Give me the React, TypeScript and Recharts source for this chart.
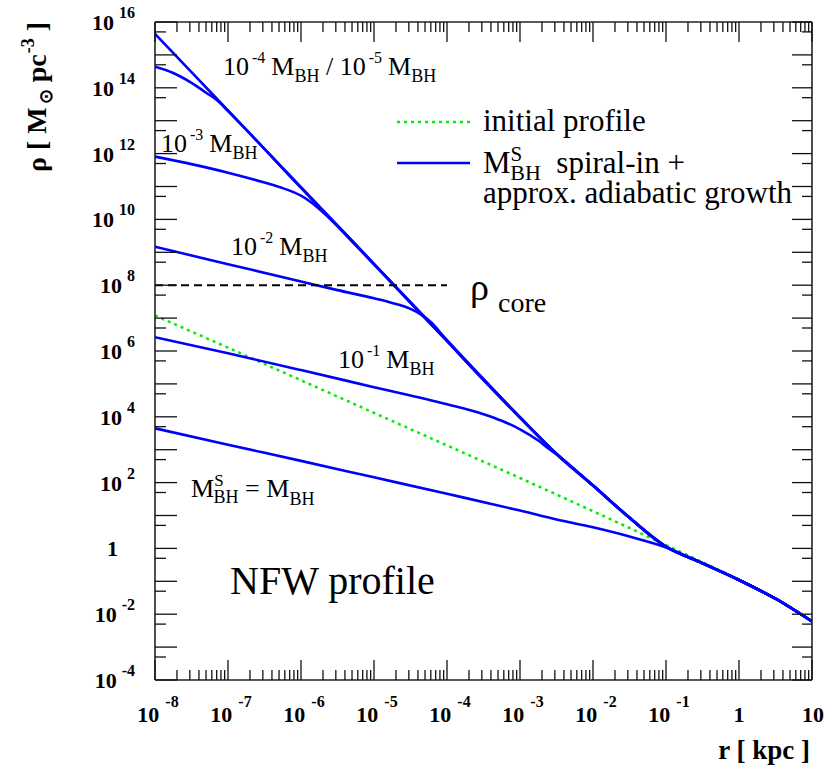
import React from 'react';
import { LineChart, Line, XAxis, YAxis } from 'recharts';

const W = 827;
const H = 769;
const FONT = "'Liberation Serif', 'Times New Roman', serif";
const BLUE = '#0000ff';
const GREEN = '#00ee00';

// all values are log10: r in kpc, rho in M_sun pc^-3
const rInitial = [-8, -7, -6, -5, -4, -3, -2, -1.5, -1, -0.5, 0, 0.5, 1];
const rhoInitial = [7.08, 6.1, 5.11, 4.12, 3.13, 2.14, 1.13, 0.62, 0.1, -0.42, -0.95, -1.53, -2.22];

const rSpike5 = [-8, -7, -6, -5, -4, -3, -2.5, -2, -1.5, -1, -0.5, 0, 0.5, 1];
const rhoSpike5 = [15.64, 13.31, 10.98, 8.65, 6.32, 3.99, 2.88, 1.92, 0.94, 0.06, -0.45, -0.96, -1.53, -2.22];

const rSpike4 = [-8, -7.75, -7.5, -7.3, -7.15, -7, -6, -5, -4, -3, -2.5, -2, -1.5, -1, -0.5, 0, 0.5, 1];
const rhoSpike4 = [14.64, 14.45, 14.15, 13.85, 13.62, 13.29, 10.96, 8.63, 6.3, 3.97, 2.87, 1.91, 0.93, 0.05, -0.45, -0.96, -1.53, -2.22];

const rSpike3 = [-8, -7.5, -7, -6.5, -6.25, -6, -5.85, -5.7, -5.5, -5, -4, -3, -2.5, -2, -1.5, -1, -0.5, 0, 0.5, 1];
const rhoSpike3 = [11.91, 11.68, 11.42, 11.12, 10.95, 10.72, 10.5, 10.22, 9.8, 8.64, 6.31, 3.98, 2.87, 1.91, 0.93, 0.05, -0.45, -0.96, -1.53, -2.22];

const rSpike2 = [-8, -7, -6, -5.5, -5, -4.75, -4.5, -4.35, -4.2, -4.05, -3.9, -3, -2.5, -2, -1.5, -1, -0.5, 0, 0.5, 1];
const rhoSpike2 = [9.17, 8.64, 8.11, 7.85, 7.6, 7.46, 7.28, 7.1, 6.84, 6.45, 6.07, 3.98, 2.87, 1.91, 0.93, 0.05, -0.45, -0.96, -1.53, -2.22];

const rSpike1 = [-8, -7, -6, -5, -4, -3.5, -3.25, -3, -2.75, -2.6, -2.5, -2, -1.5, -1, -0.5, 0, 0.5, 1];
const rhoSpike1 = [6.42, 5.93, 5.42, 4.9, 4.38, 4.08, 3.88, 3.62, 3.28, 3.02, 2.86, 1.91, 0.93, 0.05, -0.45, -0.96, -1.53, -2.22];

const rSpike0 = [-8, -7, -6, -5, -4, -3, -2.5, -2, -1.5, -1, -0.5, 0, 0.5, 1];
const rhoSpike0 = [3.65, 3.15, 2.66, 2.16, 1.66, 1.15, 0.88, 0.64, 0.36, 0.03, -0.45, -0.96, -1.53, -2.22];

const rCore = [-8, -4];
const rhoCore = [8, 8];

const xLabelPowers = [-8, -7, -6, -5, -4, -3, -2, -1, 0, 1];
const yLabelPowers = [16, 14, 12, 10, 8, 6, 4, 2, 0, -2, -4];
const xMinorMult = [2, 3, 4, 5, 6, 7, 8, 9];
const yMinorMult = [5];

const X_DOMAIN: [number, number] = [-8, 1];
const Y_DOMAIN: [number, number] = [-4, 16];

const toPts = (xs: number[], ys: number[]) => xs.map((x, i) => ({ x, y: ys[i] }));

const xTicks: number[] = [];
for (let p = X_DOMAIN[0]; p <= X_DOMAIN[1]; p++) {
  xTicks.push(p);
  if (p < X_DOMAIN[1]) xMinorMult.forEach((m) => xTicks.push(p + Math.log10(m)));
}
const yTicks: number[] = [];
for (let p = Y_DOMAIN[0]; p <= Y_DOMAIN[1]; p++) {
  yTicks.push(p);
  if (p > Y_DOMAIN[0]) yMinorMult.forEach((m) => yTicks.push(p - 1 + Math.log10(m)));
}

const isMajor = (v: number) => Math.abs(v - Math.round(v)) < 1e-6;
const TICK = '#111';

type Part = { t: string; s?: number; sh?: number; dx?: number };
function Rich(props: { x: number; y: number; size: number; parts: Part[]; weight?: string | number; anchor?: string; transform?: string; fill?: string }) {
  let prev = 0;
  return (
    <text
      x={props.x}
      y={props.y}
      style={{ fontFamily: FONT, fontWeight: props.weight ?? 'normal' }}
      fontSize={props.size}
      textAnchor={props.anchor ?? 'start'}
      transform={props.transform}
      fill={props.fill ?? '#000'}
    >
      {props.parts.map((p, i) => {
        const sh = p.sh ?? 0;
        const dy = sh - prev;
        prev = sh;
        return (
          <tspan key={i} dy={dy} dx={p.dx ?? 0} fontSize={p.s ?? props.size}>
            {p.t}
          </tspan>
        );
      })}
    </text>
  );
}

const BottomTick = (props: any) => {
  const { x, y, payload } = props;
  const v = payload.value;
  const major = isMajor(v);
  const p = Math.round(v);
  let label: React.ReactNode = null;
  if (major && xLabelPowers.includes(p)) {
    if (p === 0) {
      label = <Rich x={x} y={y + 42} size={22} weight="bold" anchor="middle" parts={[{ t: '1' }]} />;
    } else if (p === 1) {
      label = <Rich x={x + 1} y={y + 42} size={22} weight="bold" anchor="middle" parts={[{ t: '10' }]} />;
    } else {
      label = (
        <Rich x={x + 3} y={y + 42} size={22} weight="bold" anchor="middle"
          parts={[{ t: '10' }, { t: String(p), s: 16, sh: -15, dx: 6 }]} />
      );
    }
  }
  return (
    <g>
      <line x1={x} x2={x} y1={y} y2={y - (major ? 20 : 10)} stroke={TICK} strokeWidth={1.3} />
      {label}
    </g>
  );
};

const TopTick = (props: any) => {
  const { x, y, payload } = props;
  const major = isMajor(payload.value);
  return <line x1={x} x2={x} y1={y} y2={y + (major ? 20 : 10)} stroke={TICK} strokeWidth={1.3} />;
};

const LeftTick = (props: any) => {
  const { x, y, payload } = props;
  const v = payload.value;
  const major = isMajor(v);
  const p = Math.round(v);
  let label: React.ReactNode = null;
  if (major && yLabelPowers.includes(p)) {
    if (p === 0) {
      label = <Rich x={x - 37} y={y + 8} size={22} weight="bold" anchor="end" parts={[{ t: '1' }]} />;
    } else {
      label = (
        <Rich x={x - 20} y={y + 8} size={22} weight="bold" anchor="end"
          parts={[{ t: '10' }, { t: String(p), s: 16, sh: -12, dx: 5 }]} />
      );
    }
  }
  return (
    <g>
      <line x1={x} x2={x + (major ? 22 : 11)} y1={y} y2={y} stroke={TICK} strokeWidth={1.3} />
      {label}
    </g>
  );
};

const RightTick = (props: any) => {
  const { x, y, payload } = props;
  const major = isMajor(payload.value);
  return <line x1={x} x2={x - (major ? 20 : 10)} y1={y} y2={y} stroke={TICK} strokeWidth={1.3} />;
};

const AXIS_LINE = { stroke: '#222', strokeWidth: 1.6 };

const series = [
  { key: 'spike0', xs: rSpike0, ys: rhoSpike0 },
  { key: 'spike1', xs: rSpike1, ys: rhoSpike1 },
  { key: 'spike2', xs: rSpike2, ys: rhoSpike2 },
  { key: 'spike3', xs: rSpike3, ys: rhoSpike3 },
  { key: 'spike4', xs: rSpike4, ys: rhoSpike4 },
  { key: 'spike5', xs: rSpike5, ys: rhoSpike5 },
];

const sub = (t: string, s = 18, sh = 7, dx = 0): Part => ({ t, s, sh, dx });
const sup = (t: string, s = 16, sh = -12, dx = 3): Part => ({ t, s, sh, dx });

// plot area: left 155, right 812, top 22, bottom 680
const X_AXIS_H = 30;
const TOP_AXIS_H = 10;
const Y_AXIS_W = 30;
const RIGHT_AXIS_W = 10;

export default function App() {
  return (
    <div style={{ position: 'absolute', left: 0, top: 0, width: W, height: H, background: '#fff' }}>
      <LineChart width={W} height={H}
        margin={{ top: 22 - TOP_AXIS_H, right: 15 - RIGHT_AXIS_W, bottom: 89 - X_AXIS_H, left: 155 - Y_AXIS_W }}>
        <XAxis xAxisId="b" type="number" dataKey="x" domain={X_DOMAIN} ticks={xTicks} interval={0}
          allowDataOverflow height={X_AXIS_H} tickSize={0} tickMargin={0} tickLine={false}
          axisLine={AXIS_LINE} tick={<BottomTick />} />
        <XAxis xAxisId="t" orientation="top" type="number" dataKey="x" domain={X_DOMAIN} ticks={xTicks} interval={0}
          allowDataOverflow height={TOP_AXIS_H} tickSize={0} tickMargin={0} tickLine={false}
          axisLine={AXIS_LINE} tick={<TopTick />} />
        <YAxis yAxisId="l" type="number" dataKey="y" domain={Y_DOMAIN} ticks={yTicks} interval={0}
          allowDataOverflow width={Y_AXIS_W} tickSize={0} tickMargin={0} tickLine={false}
          axisLine={AXIS_LINE} tick={<LeftTick />} />
        <YAxis yAxisId="r" orientation="right" type="number" dataKey="y" domain={Y_DOMAIN} ticks={yTicks} interval={0}
          allowDataOverflow width={RIGHT_AXIS_W} tickSize={0} tickMargin={0} tickLine={false}
          axisLine={AXIS_LINE} tick={<RightTick />} />
        <Line xAxisId="b" yAxisId="l" data={toPts(rInitial, rhoInitial)} dataKey="y" type="monotone"
          stroke={GREEN} strokeWidth={2.5} strokeDasharray="3 4" dot={false} activeDot={false} isAnimationActive={false} />
        {series.map((s) => (
          <Line key={s.key} xAxisId="b" yAxisId="l" data={toPts(s.xs, s.ys)} dataKey="y" type="monotone"
            stroke={BLUE} strokeWidth={2.6} dot={false} activeDot={false} isAnimationActive={false} />
        ))}
        <Line xAxisId="b" yAxisId="l" data={toPts(rCore, rhoCore)} dataKey="y" type="linear"
          stroke="#000" strokeWidth={2} strokeDasharray="8 5" dot={false} activeDot={false} isAnimationActive={false} />
      </LineChart>
      <svg width={W} height={H} style={{ position: 'absolute', left: 0, top: 0, pointerEvents: 'none' }}>
        {/* curve annotations */}
        <Rich x={223} y={75} size={26} parts={[{ t: '10' }, sup('-4'), { t: 'M', sh: 0, dx: 6 }, sub('BH'), { t: ' / ', sh: 0 }, { t: '10' }, sup('-5'), { t: 'M', sh: 0, dx: 6 }, sub('BH')]} />
        <Rich x={161} y={152} size={26} parts={[{ t: '10' }, sup('-3'), { t: 'M', sh: 0, dx: 6 }, sub('BH')]} />
        <Rich x={231} y={255} size={26} parts={[{ t: '10' }, sup('-2'), { t: 'M', sh: 0, dx: 6 }, sub('BH')]} />
        <Rich x={338} y={368} size={26} parts={[{ t: '10' }, sup('-1'), { t: 'M', sh: 0, dx: 6 }, sub('BH')]} />
        <Rich x={191} y={497} size={26} parts={[{ t: 'M' }, { t: 'S', s: 17, sh: -11 }, { t: 'BH', s: 18, sh: 6, dx: -10 }, { t: ' = ', sh: 0 }, { t: 'M' }, sub('BH', 18, 8)]} />
        <Rich x={230} y={594} size={40} parts={[{ t: 'NFW profile' }]} />
        <Rich x={470} y={300} size={38} parts={[{ t: 'ρ' }]} />
        <Rich x={498} y={312} size={28} parts={[{ t: 'core' }]} />

        {/* legend */}
        <line x1={397} x2={470} y1={122} y2={122} stroke={GREEN} strokeWidth={2.5} strokeDasharray="3 4" />
        <Rich x={483} y={131} size={31} parts={[{ t: 'initial profile' }]} />
        <line x1={397} x2={470} y1={163} y2={163} stroke={BLUE} strokeWidth={2.5} />
        <Rich x={483} y={173} size={31} parts={[{ t: 'M' }, { t: 'S', s: 21, sh: -12 }, { t: 'BH', s: 22, sh: 7, dx: -12 }, { t: '\u00a0 spiral-in +', sh: 0 }]} />
        <Rich x={483} y={203} size={31} parts={[{ t: 'approx. adiabatic growth' }]} />

        {/* axis titles */}
        <Rich x={46} y={22} size={28} weight="bold" anchor="end" transform="rotate(-90 46 22)"
          parts={[{ t: 'ρ [ M' }, { t: '⊙', s: 18, sh: 6, dx: 3 }, { t: ' pc', sh: 0 }, { t: '-3', s: 18, sh: -12, dx: 1 }, { t: ' ]', sh: 0 }]} />
        <Rich x={810} y={759} size={27} weight="bold" anchor="end" parts={[{ t: 'r [ kpc ]' }]} />
      </svg>
    </div>
  );
}
